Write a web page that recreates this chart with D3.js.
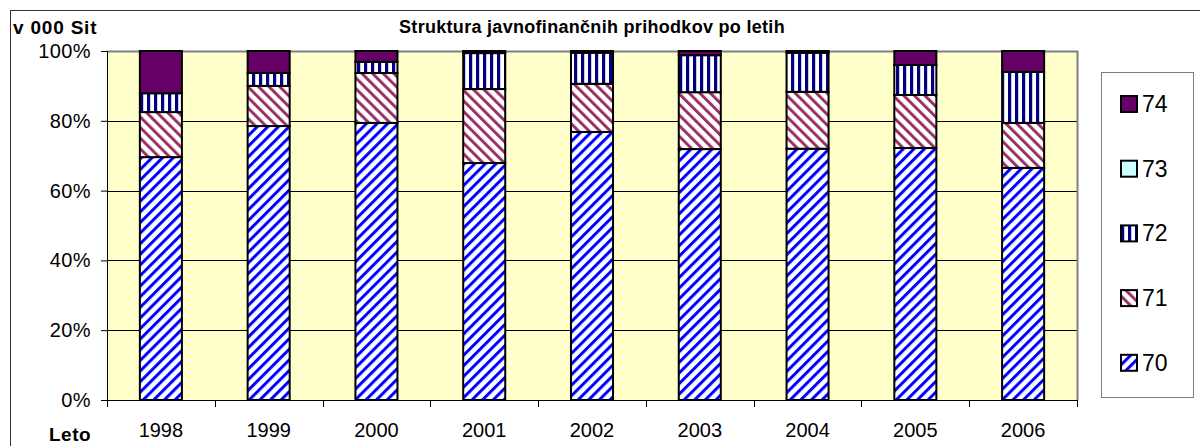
<!DOCTYPE html>
<html>
<head>
<meta charset="utf-8">
<script src="https://cdn.jsdelivr.net/npm/d3@7"></script>
<style>
  body { margin: 0; background: #fff; }
  svg { display: block; font-family: "Liberation Sans", Arial, sans-serif; }
</style>
</head>
<body>
<svg width="1200" height="446"></svg>
<script>
// data (shares in %)
const years = ["1998", "1999", "2000", "2001", "2002", "2003", "2004", "2005", "2006"];
const seriesKeys = ["70", "71", "72", "73", "74"];
const s70 = [69.6, 78.5, 79.4, 67.9, 76.8, 71.9, 72.0, 72.2, 66.5];
const s71 = [12.9, 11.5, 14.3, 21.2, 13.8, 16.3, 16.3, 15.2, 12.9];
const s72 = [5.4, 3.7, 3.2, 10.3, 8.9, 10.6, 11.2, 8.6, 14.6];
const s73 = [0, 0, 0, 0, 0, 0, 0, 0, 0];
const s74 = [12.1, 6.3, 3.1, 0.6, 0.5, 1.2, 0.5, 4.0, 6.0];
const yTicks = [0, 0.2, 0.4, 0.6, 0.8, 1];

const table = years.map((y, i) => ({
  year: y, "70": s70[i], "71": s71[i], "72": s72[i], "73": s73[i], "74": s74[i]
}));

const svg = d3.select("svg");
const margin = { left: 107, top: 51, right: 1077, bottom: 400 };

// patterns
const defs = svg.append("defs");
const addStripes = (id, color, angle, period, w) => {
  const p = defs.append("pattern")
    .attr("id", id)
    .attr("patternUnits", "userSpaceOnUse")
    .attr("width", period).attr("height", period)
    .attr("patternTransform", `rotate(${angle})`);
  p.append("rect").attr("width", period).attr("height", period).attr("fill", "#fff");
  p.append("rect").attr("width", w).attr("height", period).attr("fill", color);
};
addStripes("p70", "#0000ff", 45, 7.5, 3);
addStripes("p71", "#993366", -45, 7.5, 3);
addStripes("p72", "#000080", 0, 7, 3.2);

const fills = { "70": "url(#p70)", "71": "url(#p71)", "72": "url(#p72)", "73": "#ccffff", "74": "#660066" };

// outer chart border
svg.append("rect")
  .attr("x", 10.5).attr("y", 10.5)
  .attr("width", 1200).attr("height", 446)
  .attr("fill", "none").attr("stroke", "#333").attr("stroke-width", 1);

const x = d3.scaleBand()
  .domain(years)
  .range([margin.left, margin.right])
  .paddingInner(0.61)
  .paddingOuter(0.305);

const y = d3.scaleLinear()
  .domain([0, 1])
  .range([margin.bottom, margin.top]);

// plot background
svg.append("rect")
  .attr("x", margin.left).attr("y", margin.top)
  .attr("width", margin.right - margin.left)
  .attr("height", margin.bottom - margin.top)
  .attr("fill", "#ffffcc");

// gridlines
svg.append("g")
  .selectAll("line")
  .data(yTicks.filter(t => t > 0 && t < 1))
  .join("line")
    .attr("x1", margin.left).attr("x2", margin.right)
    .attr("y1", d => Math.round(y(d)) + 0.5).attr("y2", d => Math.round(y(d)) + 0.5)
    .attr("stroke", "#000").attr("stroke-width", 1);

// plot border (top / right gray)
svg.append("path")
  .attr("d", `M${margin.left},${margin.top + 0.5}H${margin.right + 0.5}V${margin.bottom}`)
  .attr("fill", "none").attr("stroke", "#808080").attr("stroke-width", 2);

// stacked bars
const stack = d3.stack().keys(seriesKeys).offset(d3.stackOffsetExpand);
const layers = stack(table);

svg.append("g")
  .selectAll("g")
  .data(layers)
  .join("g")
    .attr("fill", d => fills[d.key])
  .selectAll("rect")
  .data(d => d.filter(v => v[1] - v[0] > 0))
  .join("rect")
    .attr("x", d => x(d.data.year))
    .attr("y", d => y(d[1]))
    .attr("width", x.bandwidth())
    .attr("height", d => y(d[0]) - y(d[1]))
    .attr("stroke", "#000")
    .attr("stroke-width", 2);

// y axis
const yAxis = svg.append("g")
  .attr("transform", `translate(${margin.left},0)`)
  .call(d3.axisLeft(y).tickValues(yTicks).tickFormat(d3.format(".0%")).tickSize(6).tickPadding(10));
yAxis.select(".domain").attr("stroke", "#000").attr("stroke-width", 1);
yAxis.selectAll("text").attr("font-size", 20).attr("letter-spacing", 0.4).attr("fill", "#000");

// x axis: ticks between categories
const xg = svg.append("g");
xg.append("line")
  .attr("x1", margin.left).attr("x2", margin.right)
  .attr("y1", margin.bottom + 0.5).attr("y2", margin.bottom + 0.5)
  .attr("stroke", "#000");
const bounds = d3.range(years.length + 1).map(i => margin.left + i * x.step());
xg.selectAll("line.tick")
  .data(bounds)
  .join("line")
    .attr("class", "tick")
    .attr("x1", d => Math.round(d) + 0.5).attr("x2", d => Math.round(d) + 0.5)
    .attr("y1", margin.bottom).attr("y2", margin.bottom + 7)
    .attr("stroke", "#000");
xg.selectAll("text")
  .data(years)
  .join("text")
    .attr("x", d => x(d) + x.bandwidth() / 2)
    .attr("y", 437)
    .attr("text-anchor", "middle")
    .attr("font-size", 20)
    .text(d => d);

// labels
svg.append("text").attr("x", 13).attr("y", 34)
  .attr("font-size", 19).attr("letter-spacing", 0.8)
  .attr("font-weight", "bold").text("v 000 Sit");
svg.append("text").attr("x", 592).attr("y", 33)
  .attr("text-anchor", "middle")
  .attr("font-size", 18).attr("letter-spacing", 0.3).attr("font-weight", "bold")
  .text("Struktura javnofinančnih prihodkov po letih");
svg.append("text").attr("x", 49).attr("y", 441)
  .attr("font-size", 19).attr("letter-spacing", 0.5)
  .attr("font-weight", "bold").text("Leto");

// legend
const legend = svg.append("g");
legend.append("rect")
  .attr("x", 1101.5).attr("y", 72.5)
  .attr("width", 92).attr("height", 325)
  .attr("fill", "#fff").attr("stroke", "#808080");
const legendKeys = seriesKeys.slice().reverse();
const li = legend.selectAll("g")
  .data(legendKeys)
  .join("g")
    .attr("transform", (d, i) => `translate(1121,${104 + i * 64.7})`);
li.append("rect")
  .attr("x", 0).attr("y", -8)
  .attr("width", 16).attr("height", 16)
  .attr("fill", d => fills[d])
  .attr("stroke", "#000").attr("stroke-width", 2);
li.append("text")
  .attr("x", 21).attr("y", 8)
  .attr("font-size", 23)
  .text(d => d);
</script>
</body>
</html>
